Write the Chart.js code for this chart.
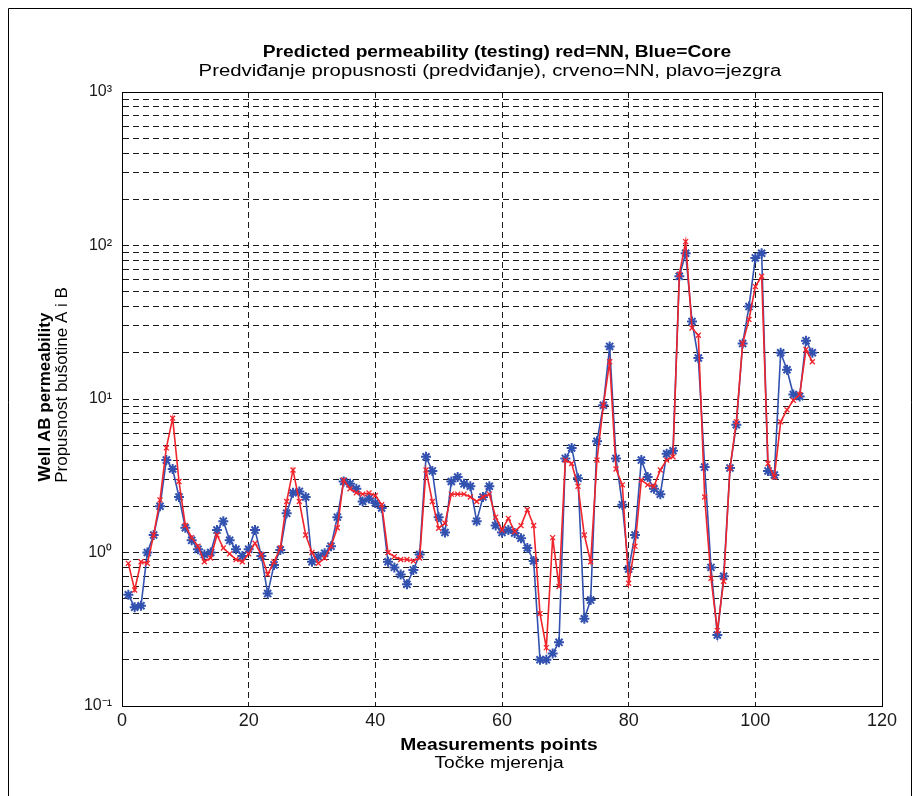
<!DOCTYPE html>
<html>
<head>
<meta charset="utf-8">
<title>Predicted permeability (testing)</title>
<script src="https://cdn.jsdelivr.net/npm/chart.js@4.4.1/dist/chart.umd.min.js"></script>
<style>
    html, body { margin: 0; padding: 0; background: #fff; }
    #wrap { width: 920px; height: 796px; }
</style>
</head>
<body>
<div id="wrap"><canvas id="permChart" width="920" height="796"></canvas></div>
<script>
// Measurement point index
const measurementPoints = [
    1, 2, 3, 4, 5, 6, 7, 8, 9, 10, 11, 12, 13, 14, 15, 16, 17, 18, 19, 20,
    21, 22, 23, 24, 25, 26, 27, 28, 29, 30, 31, 32, 33, 34, 35, 36, 37, 38, 39, 40,
    41, 42, 43, 44, 45, 46, 47, 48, 49, 50, 51, 52, 53, 54, 55, 56, 57, 58, 59, 60,
    61, 62, 63, 64, 65, 66, 67, 68, 69, 70, 71, 72, 73, 74, 75, 76, 77, 78, 79, 80,
    81, 82, 83, 84, 85, 86, 87, 88, 89, 90, 91, 92, 93, 94, 95, 96, 97, 98, 99, 100,
    101, 102, 103, 104, 105, 106, 107, 108, 109
];

// Core permeability (blue)
const coreValues = [
    0.53, 0.44, 0.45, 1.0, 1.3, 2.0, 4.0, 3.5, 2.3, 1.45,
    1.2, 1.05, 0.97, 1.0, 1.4, 1.6, 1.2, 1.05, 0.95, 1.05,
    1.4, 0.95, 0.54, 0.83, 1.04, 1.8, 2.45, 2.5, 2.3, 0.87,
    0.94, 0.99, 1.1, 1.7, 2.9, 2.8, 2.6, 2.15, 2.25, 2.1,
    1.95, 0.87, 0.8, 0.72, 0.62, 0.77, 0.97, 4.2, 3.4, 1.7,
    1.35, 2.9, 3.1, 2.8, 2.7, 1.6, 2.3, 2.7, 1.5, 1.35,
    1.4, 1.34, 1.24, 1.07, 0.88, 0.2, 0.2, 0.22, 0.26, 4.1,
    4.8, 3.05, 0.37, 0.49, 5.3, 9.1, 22, 4.1, 2.05, 0.78,
    1.3, 4.0, 3.1, 2.6, 2.4, 4.4, 4.6, 63, 89, 32,
    18.5, 3.6, 0.8, 0.29, 0.7, 3.55, 6.8, 23, 40, 83,
    89, 3.4, 3.2, 20, 15.5, 10.7, 10.4, 24, 20
];

// NN prediction (red)
const nnValues = [
    0.85, 0.57, 0.87, 0.85, 1.3, 2.2, 4.8, 7.5, 2.9, 1.5,
    1.25, 1.1, 0.87, 0.92, 1.3, 1.07, 0.98, 0.9, 0.87, 0.98,
    1.15, 0.97, 0.72, 0.87, 1.07, 2.15, 3.45, 2.15, 1.3, 1.0,
    0.85, 0.92, 1.1, 1.45, 2.97, 2.6, 2.45, 2.4, 2.44, 2.35,
    2.05, 1.0, 0.94, 0.9, 0.9, 0.88, 0.92, 3.45, 2.15, 1.44,
    1.55, 2.4, 2.4, 2.4, 2.3, 2.15, 2.3, 2.4, 1.7, 1.4,
    1.67, 1.37, 1.5, 1.9, 1.5, 0.4, 0.24, 1.25, 0.6, 4.0,
    3.8, 2.7, 1.3, 0.87, 4.0, 9.1, 17.5, 3.5, 2.76, 0.63,
    1.1, 2.97, 2.76, 2.7, 3.45, 4.0, 4.2, 65, 106, 29,
    26, 2.3, 0.68, 0.31, 0.65, 3.55, 7.1, 23, 33, 54,
    63, 3.8, 3.1, 7.1, 8.5, 9.8, 10.7, 21, 17.5
];

// Axis ticks
const xTicks = [0, 20, 40, 60, 80, 100, 120];
const yDecades = [0.1, 1, 10, 100, 1000];
const yDecadeLabels = ['10\u207B\u00B9', '10\u2070', '10\u00B9', '10\u00B2', '10\u00B3'];
const yMinorSteps = [1, 2, 3, 4, 5, 6, 7, 8, 9];

// Every log grid line: 1..9 times each decade, plus the top decade
const yGridValues = [];
yDecades.slice(0, -1).forEach(d => yMinorSteps.forEach(m => yGridValues.push(d * m)));
yGridValues.push(yDecades[yDecades.length - 1]);

const FONT = '"Liberation Sans", Arial, Helvetica, sans-serif';

// Text stretched horizontally, centred on cx
function wideText(ctx, text, cx, baseline, font, stretch) {
    ctx.save();
    ctx.font = font;
    ctx.textAlign = 'center';
    ctx.textBaseline = 'alphabetic';
    ctx.translate(cx, baseline);
    ctx.scale(stretch, 1);
    ctx.fillText(text, 0, 0);
    ctx.restore();
}

function verticalText(ctx, text, baselineX, cy, font) {
    ctx.save();
    ctx.font = font;
    ctx.textAlign = 'center';
    ctx.textBaseline = 'alphabetic';
    ctx.translate(baselineX, cy);
    ctx.rotate(-Math.PI / 2);
    ctx.fillText(text, 0, 0);
    ctx.restore();
}

// Frame, plot box and all titles
const figureText = {
    id: 'figureText',
    beforeDatasetsDraw(chart) {
        const { ctx, chartArea: a } = chart;
        ctx.save();
        ctx.strokeStyle = '#000';
        ctx.lineWidth = 1;
        ctx.strokeRect(a.left + 0.5, a.top + 0.5, a.right - a.left, a.bottom - a.top);
        ctx.restore();
    },
    afterDraw(chart) {
        const ctx = chart.ctx;
        ctx.save();
        ctx.fillStyle = '#000';
        ctx.strokeStyle = '#000';
        ctx.lineWidth = 1;

        // outer figure frame
        ctx.beginPath();
        ctx.moveTo(8.5, 796);
        ctx.lineTo(8.5, 8.5);
        ctx.lineTo(911.5, 8.5);
        ctx.lineTo(911.5, 796);
        ctx.stroke();

        wideText(ctx, 'Predicted permeability (testing) red=NN, Blue=Core', 497, 57, 'bold 16px ' + FONT, 1.2);
        wideText(ctx, 'Predviđanje propusnosti (predviđanje), crveno=NN, plavo=jezgra', 490, 75.5, '16px ' + FONT, 1.27);

        wideText(ctx, 'Measurements points', 499, 750, 'bold 16px ' + FONT, 1.2);
        wideText(ctx, 'Točke mjerenja', 499, 767.5, '16px ' + FONT, 1.2);

        verticalText(ctx, 'Well AB permeability', 50, 397, 'bold 17px ' + FONT);
        verticalText(ctx, 'Propusnost bušotine A i B', 67, 385, '17px ' + FONT);
        ctx.restore();
    }
};

document.addEventListener('DOMContentLoaded', function() {
    const ctx = document.getElementById('permChart').getContext('2d');
    Chart.defaults.font.family = FONT;
    Chart.defaults.color = '#111';

    new Chart(ctx, {
        type: 'line',
        data: {
            datasets: [{
                label: 'NN',
                data: nnValues.map((v, i) => ({ x: measurementPoints[i], y: v })),
                borderColor: '#f0242c',
                borderWidth: 1.6,
                pointStyle: 'crossRot',
                pointRadius: 3.5,
                pointBorderColor: '#f0242c',
                pointBorderWidth: 1.3,
                tension: 0,
                fill: false
            }, {
                label: 'Core',
                data: coreValues.map((v, i) => ({ x: measurementPoints[i], y: v })),
                borderColor: '#3352b0',
                borderWidth: 1.6,
                pointStyle: 'star',
                pointRadius: 5,
                pointBorderColor: '#3352b0',
                pointBorderWidth: 2,
                tension: 0,
                fill: false
            }]
        },
        options: {
            responsive: false,
            animation: false,
            events: [],
            layout: {
                padding: { top: 92, right: 38, bottom: 0, left: 0 }
            },
            plugins: {
                legend: { display: false },
                tooltip: { enabled: false },
                title: { display: false }
            },
            scales: {
                x: {
                    type: 'linear',
                    min: 0,
                    max: 120,
                    afterBuildTicks: function(scale) {
                        scale.ticks = xTicks.map(v => ({ value: v }));
                    },
                    afterFit: function(scale) {
                        scale.height = 90;
                    },
                    grid: { color: '#1a1a1a', lineWidth: 1, drawTicks: false },
                    border: { display: true, color: '#000', width: 1, dash: [6, 4] },
                    ticks: {
                        autoSkip: false,
                        maxRotation: 0,
                        padding: 4,
                        color: '#1a1a1a',
                        font: { size: 18 }
                    }
                },
                y: {
                    type: 'logarithmic',
                    min: 0.1,
                    max: 1000,
                    afterBuildTicks: function(scale) {
                        scale.ticks = yGridValues.map(v => ({ value: v }));
                    },
                    afterFit: function(scale) {
                        scale.width = 122;
                    },
                    grid: { color: '#1a1a1a', lineWidth: 1, drawTicks: false },
                    border: { display: true, color: '#000', width: 1, dash: [6, 4] },
                    ticks: {
                        autoSkip: false,
                        padding: 10,
                        color: '#1a1a1a',
                        font: { size: 16 },
                        callback: function(value) {
                            const i = yDecades.indexOf(value);
                            return i >= 0 ? yDecadeLabels[i] : '';
                        }
                    }
                }
            }
        },
        plugins: [figureText]
    });
});
</script>
</body>
</html>
